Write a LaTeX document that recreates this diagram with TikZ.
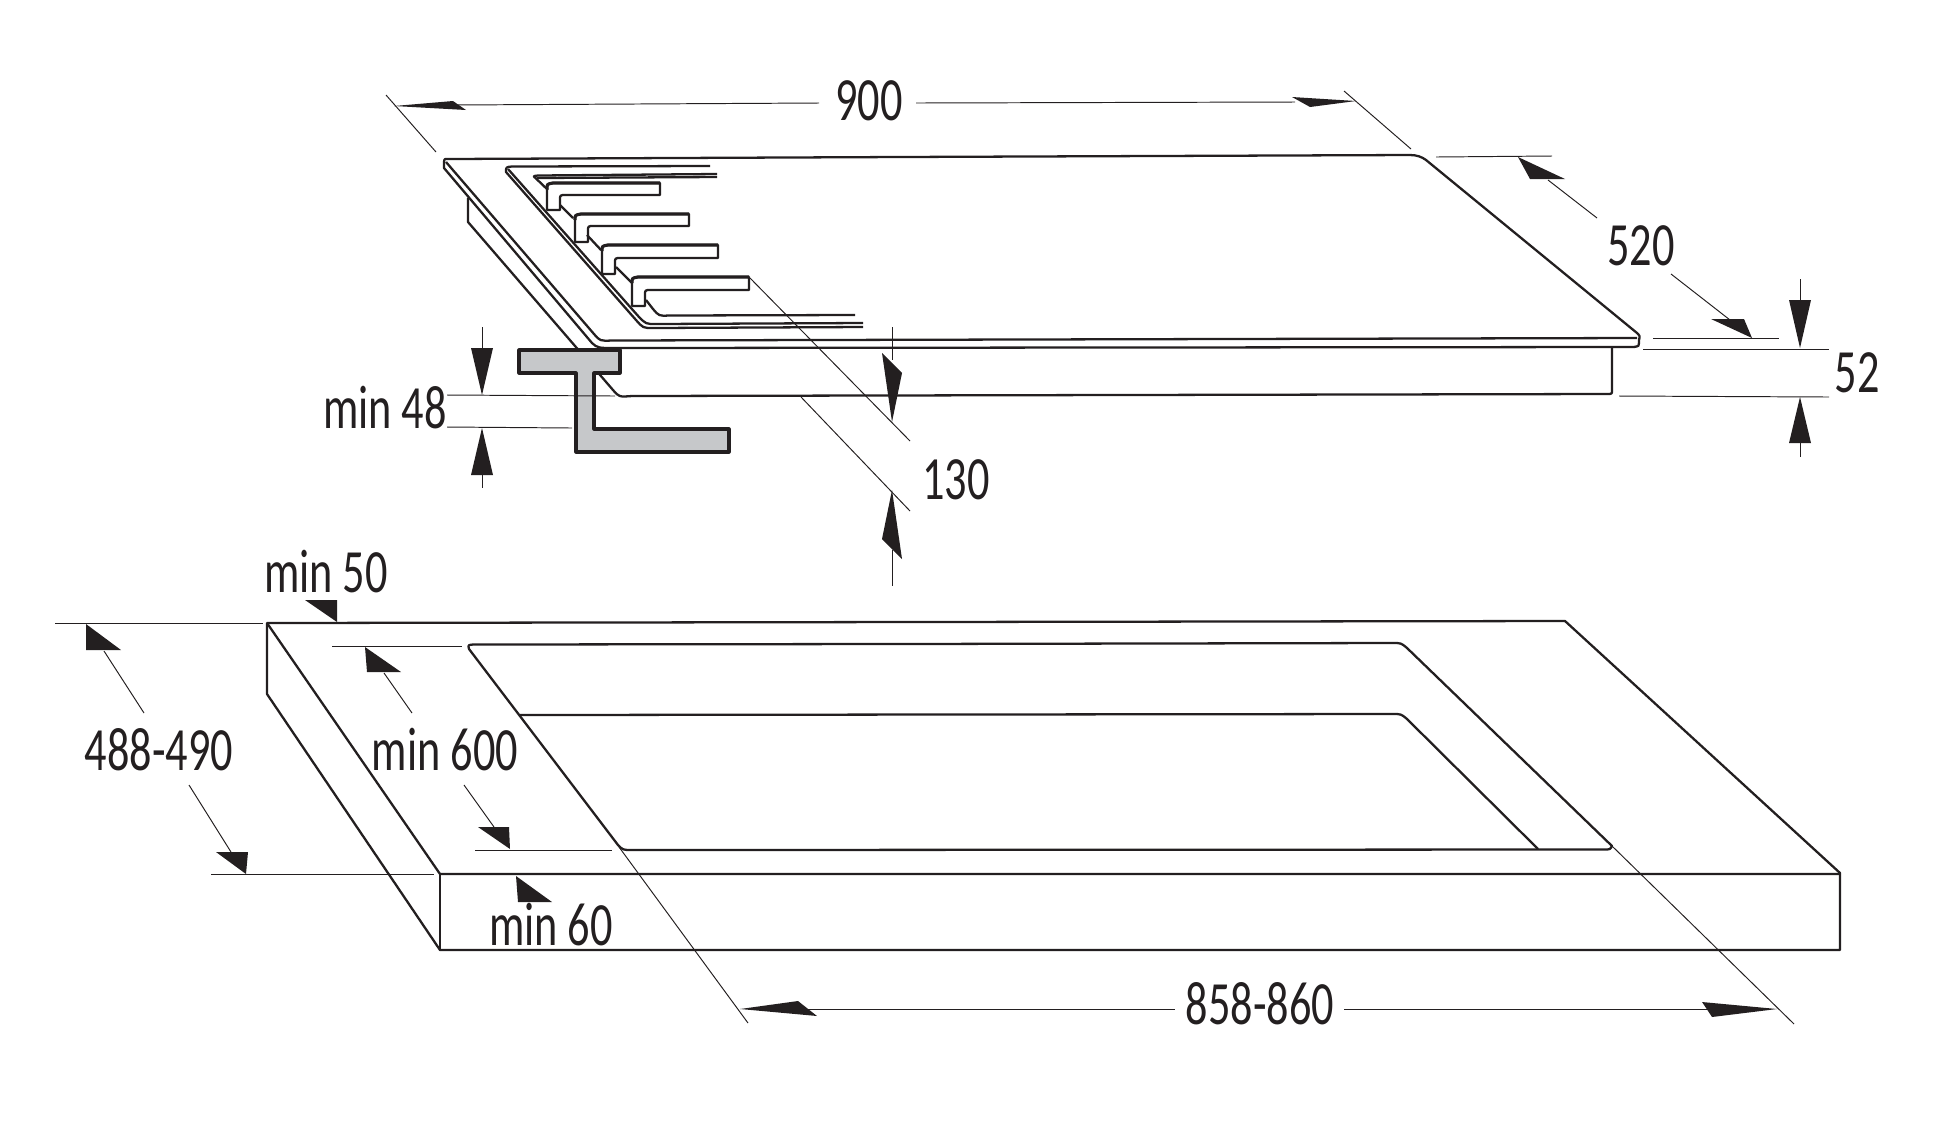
\documentclass[tikz,border=0pt]{standalone}
\usepackage{fontspec}
\newfontfamily\dimfont[FakeStretch=0.72]{Carlito}
\definecolor{ink}{HTML}{231F20}
\definecolor{steel}{HTML}{C6C8CA}
\tikzset{
  body/.style={draw=ink,line width=1.3pt,line join=round},
  thick body/.style={draw=ink,line width=1.8pt,line join=round},
  dimline/.style={draw=ink,line width=0.55pt},
  dimtip/.style={fill=ink},
  dimtext/.style={text=ink,inner sep=0pt,anchor=base,font=\dimfont\fontsize{35}{35}\selectfont}
}
\begin{document}
\begin{tikzpicture}[x=0.02cm,y=-0.02cm]
  \useasboundingbox (0,0) rectangle (1960,1144);
  % hob
  \draw[body] (468,198) -- (468,222) -- (613,390) .. controls (619,397) .. (632,396) -- (1607,394) .. controls (1612,394) .. (1612,390) -- (1612,347);
  \draw[body] (900,157) -- (1410,155) .. controls (1417,155) and (1422,157) .. (1426,160) -- (1637,333) .. controls (1640,336) .. (1639,340) -- (1639,343) .. controls (1639,346) .. (1634,347) -- (612,348) .. controls (600,348) and (597,348) .. (592,343) -- (444,168) -- (444,162) .. controls (444,159) .. (448,159) -- cycle;
  \draw[body] (446,162) -- (594,334) .. controls (600,341) .. (612,340.5) -- (1637,338);
  % recess
  \draw[body] (710,166) -- (512,166.5) .. controls (506,167) .. (506,172) -- (636,320) .. controls (643,328) .. (653,328) -- (863,327);
  \draw[body] (508,169) -- (639,317) .. controls (646,324) .. (656,324) -- (863,323);
  \draw[body] (717,174) -- (538,175.5) .. controls (533,176) .. (536,178.5) -- (548,190);
  \draw[body] (537,178) -- (717,177);
  \draw[body] (560,205) -- (573,218);
  \draw[body] (587,235) -- (601,250);
  \draw[body] (616,267) -- (632,283);
  \draw[body] (646,300) -- (653,309) .. controls (659,316) .. (669,315.5) -- (855,315);
  % knobs
  \draw[body] (547,210) -- (547,189) .. controls (547,184) .. (553,183) -- (660,183) -- (660,195) -- (566,195) .. controls (560,195) .. (560,200) -- (560,210) -- cycle;
  \draw[body] (575,242) -- (575,220) .. controls (575,215) .. (581,214) -- (689,214) -- (689,226) -- (594,226) .. controls (588,226) .. (588,231) -- (588,242) -- cycle;
  \draw[body] (602,274) -- (602,251) .. controls (602,246) .. (608,245) -- (718,245) -- (718,258) -- (621,258) .. controls (615,258) .. (615,263) -- (615,274) -- cycle;
  \draw[body] (632,306) -- (632,283) .. controls (632,278) .. (638,277) -- (749,277) -- (749,290) -- (651,290) .. controls (645,290) .. (645,295) -- (645,306) -- cycle;
  \draw[thick body] (547,189) .. controls (547,184) .. (553,183) -- (660,183);
  \draw[thick body] (575,220) .. controls (575,215) .. (581,214) -- (689,214);
  \draw[thick body] (602,251) .. controls (602,246) .. (608,245) -- (718,245);
  \draw[thick body] (632,283) .. controls (632,278) .. (638,277) -- (749,277);
  % bracket
  \draw[thick body,fill=steel] (519,350) -- (620,350) -- (620,373) -- (594,373) -- (594,429) -- (729,429) -- (729,452) -- (576,452) -- (576,373) -- (519,373) -- cycle;
  % worktop
  \draw[body] (267,623) -- (1565,621) -- (1840,873) -- (1840,950) -- (440,950) -- (267,694) -- cycle;
  \draw[body] (267,623) -- (440,874) -- (1840,874);
  \draw[body] (440,874) -- (440,950);
  \draw[body] (900,644) -- (1393,643) .. controls (1401,643) .. (1407,648) -- (1612,846) .. controls (1610,849.5) .. (1604,849.5) -- (632,850) .. controls (623,850) .. (618,845) -- (469,649) .. controls (468,645) .. (473,644.5) -- cycle;
  \draw[body] (520,715) -- (1393,714) .. controls (1401,714) .. (1407,719) -- (1538,849);
  % 900
  \node[dimtext] (w900) at (869,120) {900};
  \draw[dimline] (386,95) -- (436,152);
  \draw[dimline] (1344,91) -- (1411,149);
  \draw[dimline] (453,105) -- (819,103);
  \draw[dimline] (916,103) -- (1295,102);
  \fill[dimtip] (394,106) -- (453,101) -- (466,110) -- cycle;
  \fill[dimtip] (1356,101) -- (1292,97) -- (1310,107) -- cycle;
  % 520
  \node[dimtext] (d520) at (1641,265) {520};
  \draw[dimline] (1436,157) -- (1552,156);
  \draw[dimline] (1653,338) -- (1779,338);
  \draw[dimline] (1548,180) -- (1597,218);
  \draw[dimline] (1671,274) -- (1730,320);
  \fill[dimtip] (1518,157) -- (1530,179) -- (1565,179) -- cycle;
  \fill[dimtip] (1752,338) -- (1711,319) -- (1744,319) -- cycle;
  % 52
  \node[dimtext] (h52) at (1857,392) {52};
  \draw[dimline] (1643,349) -- (1829,349);
  \draw[dimline] (1619,396) -- (1829,397);
  \draw[dimline] (1800,279) -- (1800,300);
  \draw[dimline] (1800,443) -- (1800,457);
  \fill[dimtip] (1800,348) -- (1789,300) -- (1811,300) -- cycle;
  \fill[dimtip] (1800,397) -- (1789,443) -- (1811,443) -- cycle;
  % min 48
  \node[dimtext] (m48) at (385,428) {min 48};
  \draw[dimline] (447,395) -- (615,396);
  \draw[dimline] (447,427) -- (572,428);
  \draw[dimline] (482,327) -- (482,348);
  \draw[dimline] (482,475) -- (482,488);
  \fill[dimtip] (482,395) -- (471,348) -- (493,348) -- cycle;
  \fill[dimtip] (482,428) -- (471,475) -- (493,475) -- cycle;
  % 130
  \node[dimtext] (g130) at (956,499) {130};
  \draw[dimline] (750,278) -- (910,441);
  \draw[dimline] (801,397) -- (910,511);
  \draw[dimline] (892,327) -- (892,360);
  \draw[dimline] (892,550) -- (892,586);
  \fill[dimtip] (892,422) -- (882,353) -- (902,373) -- cycle;
  \fill[dimtip] (892,490) -- (882,539) -- (902,559) -- cycle;
  % min 50
  \node[dimtext] (m50) at (326,592) {min 50};
  \fill[dimtip] (337,622) -- (305,600) -- (337,600) -- cycle;
  % 488-490
  \node[dimtext] (c488) at (159,770) {488-490};
  \draw[dimline] (55,623) -- (263,623);
  \draw[dimline] (211,874) -- (434,874);
  \draw[dimline] (104,651) -- (144,713);
  \draw[dimline] (189,785) -- (231,852);
  \fill[dimtip] (86,624) -- (86,650) -- (121,650) -- cycle;
  \fill[dimtip] (246,874) -- (216,852) -- (248,852) -- cycle;
  % min 600
  \node[dimtext] (m600) at (445,770) {min 600};
  \draw[dimline] (332,646) -- (462,646);
  \draw[dimline] (475,850) -- (612,850);
  \draw[dimline] (384,673) -- (412,713);
  \draw[dimline] (464,785) -- (494,827);
  \fill[dimtip] (365,647) -- (367,672) -- (401,672) -- cycle;
  \fill[dimtip] (510,849) -- (478,827) -- (509,827) -- cycle;
  % min 60
  \node[dimtext] (m60) at (551,945) {min 60};
  \fill[dimtip] (516,876) -- (518,902) -- (552,902) -- cycle;
  % 858-860
  \node[dimtext] (c858) at (1260,1024) {858-860};
  \draw[dimline] (619,847) -- (748,1023);
  \draw[dimline] (1612,846) -- (1794,1024);
  \draw[dimline] (800,1009) -- (1175,1009);
  \draw[dimline] (1344,1009) -- (1710,1009);
  \fill[dimtip] (740,1009) -- (798,1001) -- (817,1016) -- cycle;
  \fill[dimtip] (1777,1009) -- (1702,1002) -- (1712,1017) -- cycle;
\end{tikzpicture}
\end{document}
